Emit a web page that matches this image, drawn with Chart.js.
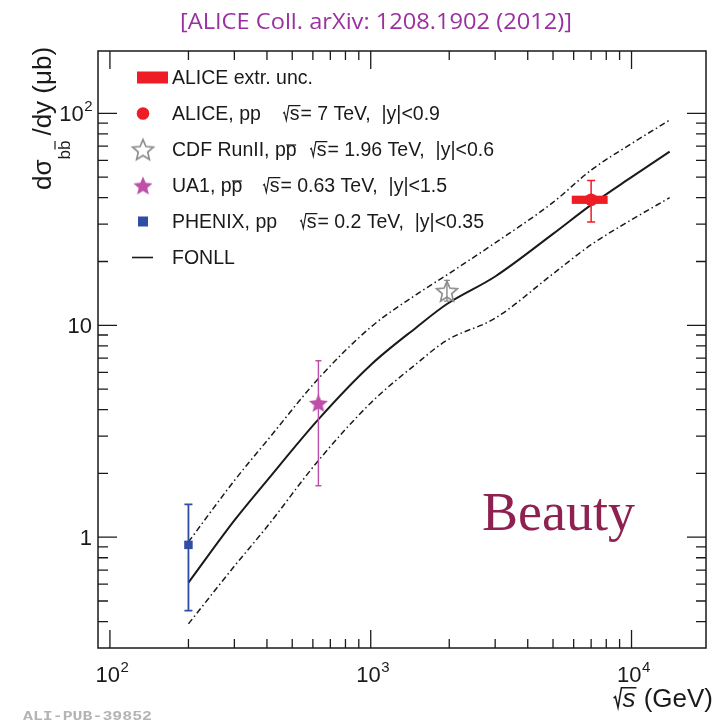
<!DOCTYPE html>
<html>
<head>
<meta charset="utf-8">
<title>Beauty production cross section vs sqrt(s)</title>
<script src="https://cdn.jsdelivr.net/npm/chart.js@4.4.1/dist/chart.umd.min.js"></script>
<style>
  html, body { margin: 0; padding: 0; background: #fff; }
  #wrap { width: 717px; height: 721px; }
</style>
</head>
<body>
<div id="wrap"><canvas id="xsec" width="717" height="721"></canvas></div>
<script>
// FONLL prediction: central value and upper/lower edges of the band (mub)
const fonllEnergy  = [200, 300, 400, 630, 1000, 1500, 1960, 3000, 5000, 7000, 10000, 14000];
const fonllCentral = [0.61, 1.2, 1.85, 3.6, 6.5, 9.8, 12.6, 17.0, 27, 37, 50, 66];
const fonllUpper   = [0.95, 1.85, 2.85, 5.6, 9.8, 14.0, 17.3, 24.5, 38, 54, 72, 93];
const fonllLower   = [0.39, 0.73, 1.12, 2.3, 4.3, 6.6, 8.5, 10.8, 17.5, 24, 31.5, 40];

// Measurements: PHENIX, UA1, CDF, ALICE
const expNames   = ['PHENIX', 'UA1', 'CDF', 'ALICE'];
const expEnergy  = [200, 630, 1960, 7000];
const expValue   = [0.92, 4.3, 14.5, 39.1];
const expErrLow  = [0.45, 1.75, 13.0, 30.7];
const expErrHigh = [1.43, 6.8, 16.3, 48.2];

// ALICE extrapolation uncertainty box
const extrEnergyLow  = [5900];
const extrEnergyHigh = [8100];
const extrLow  = [37.4];
const extrHigh = [40.9];

// Axis ranges and labelled decades
const xRange = [90, 19300];
const yRange = [0.304, 197];
const xTickValues = [100, 1000, 10000];
const xTickLabels = ['10^2', '10^3', '10^4'];
const yTickValues = [1, 10, 100];
const yTickLabels = ['1', '10', '10^2'];

const SANS = '"Liberation Sans", Arial, sans-serif';
const RED = '#ee1c25';
const BLUE = '#2f4ea3';
const MAGENTA = '#be50aa';
const GREY = '#8a8a8a';
const INK = '#1a1a1a';

// five-pointed star sprite used as a point style
function starImage(radius, fill, stroke) {
  const size = Math.ceil(radius * 2 + 4);
  const c = document.createElement('canvas');
  c.width = size;
  c.height = size;
  const g = c.getContext('2d');
  const cx = size / 2, cy = size / 2 + radius * 0.1;
  g.beginPath();
  for (let k = 0; k < 10; k++) {
    const r = k % 2 ? radius * 0.45 : radius;
    const a = -Math.PI / 2 + k * Math.PI / 5;
    g.lineTo(cx + r * Math.cos(a), cy + r * Math.sin(a));
  }
  g.closePath();
  if (fill) { g.fillStyle = fill; g.fill(); }
  if (stroke) { g.strokeStyle = stroke; g.lineWidth = 1.6; g.stroke(); }
  return c;
}

const ua1Star = starImage(10, MAGENTA, null);
const cdfStar = starImage(11, null, GREY);

const expStyle = [
  { color: BLUE, pointStyle: 'rect', radius: 6, cap: 4, width: 1.8 },
  { color: MAGENTA, pointStyle: ua1Star, radius: 10, cap: 3, width: 1.4 },
  { color: GREY, pointStyle: cdfStar, radius: 11, cap: 3, width: 1.4 },
  { color: RED, pointStyle: 'circle', radius: 6.3, cap: 4, width: 1.5 }
];

function curve(values) {
  return fonllEnergy.map((e, i) => ({ x: e, y: values[i] }));
}

const datasets = expNames.map((name, i) => ({
  label: name,
  data: [{ x: expEnergy[i], y: expValue[i] }],
  pointStyle: expStyle[i].pointStyle,
  pointRadius: expStyle[i].radius,
  backgroundColor: expStyle[i].color,
  borderColor: expStyle[i].color,
  borderWidth: 0,
  showLine: false
}));

const bandLine = {
  showLine: true,
  pointRadius: 0,
  borderColor: INK,
  borderWidth: 1.5,
  borderDash: [6, 3, 1.5, 3],
  cubicInterpolationMode: 'monotone',
  fill: false
};
datasets.push({ ...bandLine, label: 'FONLL upper', data: curve(fonllUpper) });
datasets.push({ ...bandLine, label: 'FONLL lower', data: curve(fonllLower) });
datasets.push({ ...bandLine, label: 'FONLL', data: curve(fonllCentral), borderDash: [], borderWidth: 2 });

// error bars (and the ALICE extrapolation box) go under each marker
const errorBars = {
  id: 'errorBars',
  beforeDatasetDraw(chart, args) {
    const i = args.index;
    if (i >= expNames.length) return;
    const { ctx, scales: { x, y } } = chart;
    const st = expStyle[i];
    const px = x.getPixelForValue(expEnergy[i]);
    const yHi = y.getPixelForValue(expErrHigh[i]);
    const yLo = y.getPixelForValue(expErrLow[i]);
    ctx.save();
    ctx.strokeStyle = st.color;
    ctx.lineWidth = st.width;
    ctx.beginPath();
    ctx.moveTo(px, yHi); ctx.lineTo(px, yLo);
    ctx.moveTo(px - st.cap, yHi); ctx.lineTo(px + st.cap, yHi);
    ctx.moveTo(px - st.cap, yLo); ctx.lineTo(px + st.cap, yLo);
    ctx.stroke();
    if (expNames[i] === 'ALICE') {
      const bx0 = x.getPixelForValue(extrEnergyLow[0]);
      const bx1 = x.getPixelForValue(extrEnergyHigh[0]);
      const by0 = y.getPixelForValue(extrHigh[0]);
      const by1 = y.getPixelForValue(extrLow[0]);
      ctx.fillStyle = RED;
      ctx.fillRect(bx0, by0, bx1 - bx0, by1 - by0);
    }
    ctx.restore();
  }
};

// "10^2" style label with a raised exponent
function drawPower(ctx, label, x, base, align) {
  const [mant, exp] = label.split('^');
  ctx.font = '22px ' + SANS;
  const wm = ctx.measureText(mant).width;
  let we = 0;
  if (exp) {
    ctx.font = '15px ' + SANS;
    we = ctx.measureText(exp).width;
  }
  const total = wm + we;
  const x0 = align === 'right' ? x - total : align === 'center' ? x - total / 2 : x;
  ctx.textAlign = 'left';
  ctx.textBaseline = 'alphabetic';
  ctx.font = '22px ' + SANS;
  ctx.fillText(mant, x0, base);
  if (exp) {
    ctx.font = '15px ' + SANS;
    ctx.fillText(exp, x0 + wm + 0.5, base - 10);
  }
}

// radical sign with a bar over "s"; returns the width used
function drawSqrtS(ctx, x, base, size, italic) {
  ctx.font = (italic ? 'italic ' : '') + size + 'px ' + SANS;
  const ws = ctx.measureText('s').width;
  const top = base - 0.74 * size;
  const sx = x + 0.34 * size;
  ctx.lineWidth = Math.max(1, size / 17);
  ctx.beginPath();
  ctx.moveTo(x, base - 0.34 * size);
  ctx.lineTo(x + 0.07 * size, base - 0.40 * size);
  ctx.lineTo(x + 0.17 * size, base + 0.02 * size);
  ctx.lineTo(x + 0.30 * size, top);
  ctx.lineTo(sx + ws + 1, top);
  ctx.stroke();
  ctx.textAlign = 'left';
  ctx.fillText('s', sx, base);
  return 0.34 * size + ws + 1;
}

// text whose last character carries an overbar (p-bar, b-bar)
function drawBarred(ctx, text, x, base, barred, barY) {
  ctx.textAlign = 'left';
  ctx.fillText(text, x, base);
  if (!barred) return;
  const w0 = ctx.measureText(text.slice(0, -1)).width;
  const w1 = ctx.measureText(text).width;
  ctx.beginPath();
  ctx.moveTo(x + w0 + 0.5, barY);
  ctx.lineTo(x + w1 - 0.5, barY);
  ctx.stroke();
}

const legendRows = [
  { label: 'ALICE extr. unc.' },
  { label: 'ALICE, pp', barred: false, rootX: 283, tail: '= 7 TeV,  |y|<0.9' },
  { label: 'CDF RunII, pp', barred: true, rootX: 310, tail: '= 1.96 TeV,  |y|<0.6' },
  { label: 'UA1, pp', barred: true, rootX: 263, tail: '= 0.63 TeV,  |y|<1.5' },
  { label: 'PHENIX, pp', barred: false, rootX: 300, tail: '= 0.2 TeV,  |y|<0.35' },
  { label: 'FONLL' }
];

const decorations = {
  id: 'decorations',
  afterDraw(chart) {
    const { ctx, chartArea: a, scales: { x, y } } = chart;
    ctx.save();

    // frame
    ctx.strokeStyle = INK;
    ctx.lineWidth = 1.5;
    ctx.strokeRect(a.left, a.top, a.right - a.left, a.bottom - a.top);

    // ticks on all four sides, pointing inwards
    ctx.lineWidth = 1.3;
    ctx.beginPath();
    for (const d of [10, 100, 1000, 10000]) {
      for (let m = 1; m <= 9; m++) {
        const v = m * d;
        if (v <= xRange[0] || v >= xRange[1]) continue;
        const px = x.getPixelForValue(v);
        const len = m === 1 ? 18 : 9;
        ctx.moveTo(px, a.bottom); ctx.lineTo(px, a.bottom - len);
        ctx.moveTo(px, a.top); ctx.lineTo(px, a.top + len);
      }
    }
    for (const d of [0.1, 1, 10, 100]) {
      for (let m = 1; m <= 9; m++) {
        const v = m * d;
        if (v <= yRange[0] || v >= yRange[1]) continue;
        const py = y.getPixelForValue(v);
        const len = m === 1 ? 19 : 10;
        ctx.moveTo(a.left, py); ctx.lineTo(a.left + len, py);
        ctx.moveTo(a.right, py); ctx.lineTo(a.right - len, py);
      }
    }
    ctx.stroke();

    // tick labels
    ctx.fillStyle = INK;
    xTickValues.forEach((v, i) => drawPower(ctx, xTickLabels[i], x.getPixelForValue(v) + 2, a.bottom + 34, 'center'));
    yTickValues.forEach((v, i) => drawPower(ctx, yTickLabels[i], 92, y.getPixelForValue(v) + 8, 'right'));

    // x title
    ctx.font = '26px ' + SANS;
    const tail = ' (GeV)';
    const wTail = ctx.measureText(tail).width;
    ctx.font = 'italic 26px ' + SANS;
    const wRoot = 0.34 * 26 + ctx.measureText('s').width + 1;
    const xStart = 713 - wTail - wRoot;
    ctx.strokeStyle = INK;
    drawSqrtS(ctx, xStart, 707, 26, true);
    ctx.font = '26px ' + SANS;
    ctx.textAlign = 'left';
    ctx.fillText(tail, xStart + wRoot, 707);

    // y title, rotated
    ctx.save();
    ctx.translate(51, 190);
    ctx.rotate(-Math.PI / 2);
    ctx.font = '26px ' + SANS;
    ctx.fillText('d\u03c3', 0, 0);
    let tx = ctx.measureText('d\u03c3').width;
    ctx.font = '17px ' + SANS;
    ctx.lineWidth = 1.2;
    drawBarred(ctx, 'bb', tx, 19, true, 4);
    tx += ctx.measureText('bb').width + 5;
    ctx.font = '26px ' + SANS;
    ctx.fillText('/dy (\u03bcb)', tx, 0);
    ctx.restore();

    // legend
    const lx = 172;
    legendRows.forEach((row, i) => {
      const base = 84 + i * 36;
      const my = base - 6.5;
      ctx.fillStyle = INK;
      ctx.strokeStyle = INK;
      ctx.font = '19.5px ' + SANS;
      ctx.lineWidth = 1.2;
      drawBarred(ctx, row.label, lx, base, row.barred, base - 11);
      if (row.rootX) {
        const w = drawSqrtS(ctx, row.rootX, base, 19.5, false);
        ctx.font = '19.5px ' + SANS;
        ctx.fillText(row.tail, row.rootX + w, base);
      }
      if (i === 0) {
        ctx.fillStyle = RED;
        ctx.fillRect(137, my - 6, 31, 12);
      } else if (i === 1) {
        ctx.fillStyle = RED;
        ctx.beginPath();
        ctx.arc(143, my, 6.3, 0, Math.PI * 2);
        ctx.fill();
      } else if (i === 2) {
        ctx.drawImage(cdfStar, 143 - cdfStar.width / 2, my - cdfStar.height / 2);
      } else if (i === 3) {
        ctx.drawImage(ua1Star, 143 - ua1Star.width / 2, my - ua1Star.height / 2);
      } else if (i === 4) {
        ctx.fillStyle = BLUE;
        ctx.fillRect(138, my - 5, 10, 10);
      } else {
        ctx.strokeStyle = INK;
        ctx.lineWidth = 1.6;
        ctx.beginPath();
        ctx.moveTo(132, my);
        ctx.lineTo(153, my);
        ctx.stroke();
      }
    });

    // "Beauty" tag
    ctx.fillStyle = '#8e2150';
    ctx.font = '54px "Liberation Serif", "Times New Roman", serif';
    ctx.textAlign = 'left';
    ctx.fillText('Beauty', 482, 530);

    // reference line above the frame
    ctx.save();
    ctx.fillStyle = '#9b30a0';
    ctx.font = '21px "Open Sans", sans-serif';
    const ref = '[ALICE Coll. arXiv: 1208.1902 (2012)]';
    const fit = 392 / ctx.measureText(ref).width;
    ctx.translate(376, 29);
    ctx.scale(fit, 1);
    ctx.textAlign = 'center';
    ctx.fillText(ref, 0, 0);
    ctx.restore();

    // figure id
    ctx.save();
    ctx.fillStyle = '#b4b4b4';
    ctx.font = 'bold 13px "Liberation Mono", monospace';
    const fid = 'ALI-PUB-39852';
    const fs = 129 / ctx.measureText(fid).width;
    ctx.translate(23, 720);
    ctx.scale(fs, 1);
    ctx.textAlign = 'left';
    ctx.fillText(fid, 0, 0);
    ctx.restore();

    ctx.restore();
  }
};

new Chart(document.getElementById('xsec'), {
  type: 'scatter',
  data: { datasets },
  options: {
    responsive: false,
    animation: false,
    events: [],
    layout: { padding: { left: 98, top: 51, right: 6, bottom: 73 } },
    plugins: {
      legend: { display: false },
      tooltip: { enabled: false }
    },
    scales: {
      x: { type: 'logarithmic', min: xRange[0], max: xRange[1], display: false },
      y: { type: 'logarithmic', min: yRange[0], max: yRange[1], display: false }
    }
  },
  plugins: [errorBars, decorations]
});
</script>
</body>
</html>
